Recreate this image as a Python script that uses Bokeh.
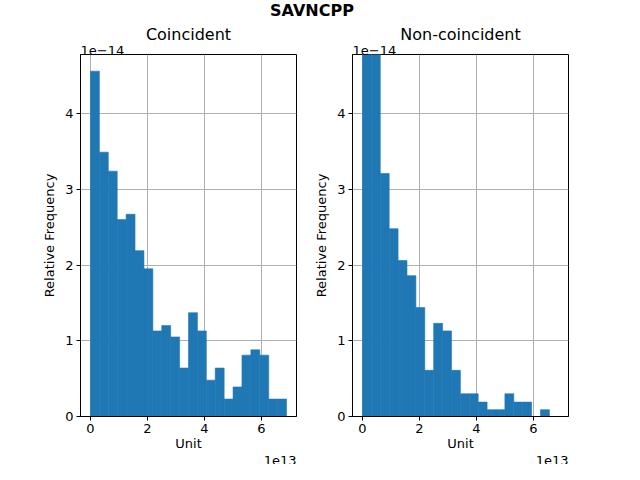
import numpy as np
from bokeh.plotting import figure
from bokeh.layouts import row, column
from bokeh.models import Div, Title, FixedTicker
from bokeh.embed import file_html
from bokeh.resources import INLINE

# heights in units of 1e-14, bin edges in units of 1e13
coinc_heights = [4.56, 3.49, 3.24, 2.60, 2.67, 2.19, 1.95, 1.13, 1.20, 1.05, 0.64,
                 1.37, 1.13, 0.48, 0.64, 0.23, 0.39, 0.81, 0.88, 0.81, 0.23, 0.23]
coinc_max = 6.88
noncoinc_heights = [5.2, 4.9, 3.21, 2.48, 2.06, 1.86, 1.44, 0.61, 1.23, 1.13, 0.61,
                    0.30, 0.30, 0.19, 0.09, 0.09, 0.30, 0.19, 0.19, 0.0, 0.09]
noncoinc_max = 6.56
x_ticks = [0, 2, 4, 6]
y_ticks = [0, 1, 2, 3, 4]

FONT = "DejaVu Sans"


def hist_panel(name, heights, xmax, width, left_border, right_border):
    p = figure(width=width, height=442, x_range=(-0.35, 7.23), y_range=(0, 4.78),
               output_backend="svg", toolbar_location=None,
               min_border_left=left_border, min_border_right=right_border,
               min_border_top=0, min_border_bottom=0)
    edges = np.linspace(0, xmax, len(heights) + 1)
    p.quad(left=edges[:-1], right=edges[1:], bottom=0, top=heights,
           fill_color="#1f77b4", line_color="#1f77b4", line_width=0.6)
    p.add_layout(Title(text="1e\u221214", align="left", text_font=FONT,
                       text_font_size="13px", text_font_style="normal",
                       text_color="black", standoff=0, offset=0), "above")
    p.add_layout(Title(text=name, align="center", text_font=FONT,
                       text_font_size="16px", text_font_style="normal",
                       text_color="black", standoff=0), "above")
    p.add_layout(Title(text="1e13", align="right", text_font=FONT,
                       text_font_size="13px", text_font_style="normal",
                       text_color="black", standoff=0), "below")
    p.xaxis.ticker = FixedTicker(ticks=x_ticks)
    p.yaxis.ticker = FixedTicker(ticks=y_ticks)
    p.xaxis.axis_label = "Unit"
    p.yaxis.axis_label = "Relative Frequency"
    for ax in (p.xaxis, p.yaxis):
        ax.axis_label_text_font = FONT
        ax.axis_label_text_font_size = "13px"
        ax.axis_label_text_font_style = "normal"
        ax.axis_label_text_color = "black"
        ax.major_label_text_font = FONT
        ax.major_label_text_font_size = "13px"
        ax.major_label_text_color = "black"
        ax.major_label_standoff = 3
        ax.axis_line_color = "black"
        ax.major_tick_line_color = "black"
        ax.major_tick_out = 4
        ax.major_tick_in = 0
        ax.minor_tick_line_color = None
    p.xaxis.axis_label_standoff = 0
    p.grid.grid_line_color = "#b0b0b0"
    p.grid.grid_line_width = 1
    p.outline_line_color = "black"
    p.background_fill_color = "white"
    p.border_fill_color = "white"
    return p


p1 = hist_panel("Coincident", coinc_heights, coinc_max, 300, 80, 4)
p2 = hist_panel("Non-coincident", noncoinc_heights, noncoinc_max, 316, 52, 48)

head = Div(text="<div style='width:624px;text-align:center;font-family:DejaVu Sans;"
                "font-weight:bold;font-size:16px;'>SAVNCPP</div>",
           width=624, height=22, margin=(0, 0, 0, 0))
page = column(head, row(p1, p2, spacing=0), spacing=0)

open("out.html", "w").write(file_html(page, INLINE))
